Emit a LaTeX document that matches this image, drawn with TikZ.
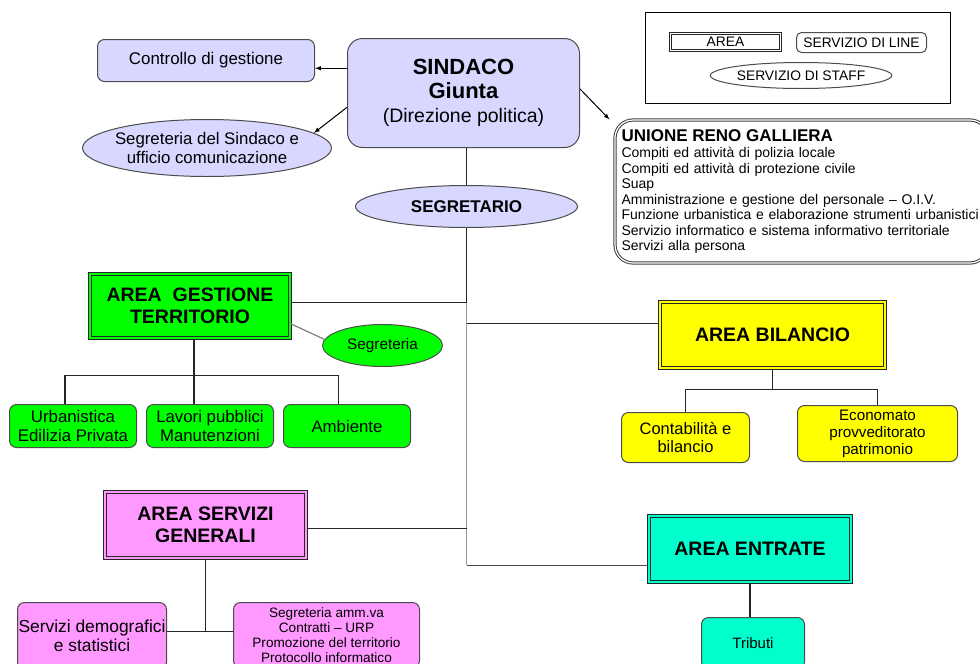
\documentclass[tikz,border=0pt]{standalone}
\usepackage{fontspec}
\setmainfont{Liberation Sans}
\usepackage{tikz}
\usetikzlibrary{shapes.geometric, arrows}
\definecolor{lav}{RGB}{215,215,255}
\definecolor{verde}{RGB}{0,255,0}
\definecolor{giallo}{RGB}{255,255,0}
\definecolor{rosa}{RGB}{255,153,255}
\definecolor{acqua}{RGB}{0,255,204}
\tikzstyle{staff} = [ellipse, 
draw=black!70, 
line width=1pt,
inner sep=0pt,
text centered]
\tikzstyle{servizio} = [rectangle, rounded corners=7pt, 
draw=black!70, 
line width=1pt,
inner sep=0pt,
align=center]
\tikzstyle{area} = [rectangle, 
draw=black!85, 
line width=1.5pt, 
double distance=1.5pt,
inner sep=0pt,
align=center,
font=\bfseries\fontsize{19.5}{22}\selectfont]
\tikzstyle{arrow} = [line width=1pt,->,>=latex]
\tikzstyle{conn} = [line width=1.2pt, black!85]

\begin{document}
\begin{tikzpicture}[x=1pt, y=-1pt]
\useasboundingbox (0,0) rectangle (980,664);
\clip (0,0) rectangle (980,664);

% legenda
\node (legenda) [rectangle, draw=black, line width=1pt, minimum width=305pt, minimum height=91pt] at (797.5,57.5) {};
\node (legarea) [area, fill=white, double=white, line width=1.2pt, font=\fontsize{13.8}{15}\selectfont, minimum width=110pt, minimum height=17pt] at (725.5,42) {AREA};
\node (legline) [servizio, fill=white, rounded corners=5pt, font=\fontsize{13.8}{15}\selectfont, minimum width=130pt, minimum height=20pt] at (861.5,42.5) {SERVIZIO DI LINE};
\node (legstaff) [staff, fill=white, font=\fontsize{13.8}{15}\selectfont, minimum width=167pt, minimum height=26pt] at (801,75.5) {SERVIZIO DI STAFF};

% vertice
\node (sindaco) [servizio, fill=lav, rounded corners=15pt, minimum width=232pt, minimum height=109pt, font=\fontsize{22}{24}\selectfont] at (463.5,93) {\textbf{SINDACO}\\ \textbf{Giunta}\\ {\fontsize{19.5}{24}\selectfont (Direzione politica)}};
\node (ctrl) [servizio, fill=lav, minimum width=217pt, minimum height=42pt, font=\fontsize{16.9}{19}\selectfont] at (206,60.5) {Controllo di gestione};
\node (segsind) [staff, fill=lav, inner xsep=-4pt, minimum width=249pt, minimum height=57pt, align=center, font=\fontsize{16.8}{19}\selectfont] at (207,148) {Segreteria del Sindaco e\\ufficio comunicazione};
\node (segretario) [staff, fill=lav, minimum width=222pt, minimum height=42pt, font=\bfseries\fontsize{17}{19}\selectfont] at (466.5,206.5) {SEGRETARIO};
\node (unione) [rectangle, rounded corners=18pt, draw=black!75, line width=1pt, double=white, double distance=1.2pt, fill=white, inner xsep=6.5pt, text width=360pt, minimum height=143pt, align=left, font=\fontsize{14}{15.5}\selectfont] at (801.5,191.5) {{\bfseries\fontsize{17}{17}\selectfont UNIONE RENO GALLIERA}\\[1pt]
Compiti ed attività di polizia locale\\
Compiti ed attività di protezione civile\\
Suap\\
Amministrazione e gestione del personale – O.I.V.\\
Funzione urbanistica e elaborazione strumenti urbanistici\\
Servizio informatico e sistema informativo territoriale\\
Servizi alla persona};

% aree
\node (agt) [area, fill=verde, double=verde, minimum width=200pt, minimum height=64pt] at (190,306) {AREA\ \ GESTIONE\\TERRITORIO};
\node (segagt) [staff, fill=verde, minimum width=120pt, minimum height=42pt, font=\fontsize{15.3}{17}\selectfont] at (382.5,345.5) {Segreteria};
\node (urb) [servizio, fill=verde, minimum width=127pt, minimum height=43pt, font=\fontsize{16.8}{19}\selectfont] at (73,426) {Urbanistica\\Edilizia Privata};
\node (lavori) [servizio, fill=verde, minimum width=127pt, minimum height=43pt, font=\fontsize{16.8}{19}\selectfont] at (210,426) {Lavori pubblici\\Manutenzioni};
\node (amb) [servizio, fill=verde, minimum width=127pt, minimum height=43pt, font=\fontsize{16.8}{19}\selectfont] at (347,426) {Ambiente};

\node (ab) [area, fill=giallo, double=giallo, minimum width=225pt, minimum height=66pt] at (772.5,335) {AREA BILANCIO};
\node (cont) [servizio, fill=giallo, minimum width=128pt, minimum height=50pt, font=\fontsize{16.5}{18}\selectfont] at (685.5,437.5) {Contabilità e\\bilancio};
\node (econ) [servizio, fill=giallo, minimum width=160pt, minimum height=56pt, font=\fontsize{15.2}{17}\selectfont] at (877.5,433.5) {Economato\\provveditorato\\patrimonio};

\node (asg) [area, fill=rosa, double=rosa, minimum width=201pt, minimum height=66pt] at (205.5,525) {AREA SERVIZI\\GENERALI};
\node (demo) [servizio, fill=rosa, minimum width=149pt, minimum height=67pt, font=\fontsize{17.4}{19}\selectfont] at (92,636) {Servizi demografici\\e statistici};
\node (segamm) [servizio, fill=rosa, minimum width=186pt, minimum height=65pt, font=\fontsize{13.6}{15}\selectfont] at (326.5,635) {Segreteria amm.va\\Contratti – URP\\Promozione del territorio\\Protocollo informatico};

\node (ae) [area, fill=acqua, double=acqua, minimum width=202pt, minimum height=66pt] at (750,549) {AREA ENTRATE};
\node (trib) [servizio, fill=acqua, minimum width=103pt, minimum height=51pt, font=\fontsize{15}{17}\selectfont] at (753,643) {Tributi};

% collegamenti
\draw [arrow] (sindaco.168) -- (sindaco.168 -| ctrl.east);
\draw [arrow] (sindaco.187) -- (segsind.8);
\draw [arrow] (sindaco.2) -- ([xshift=-5pt]unione.north west);
\draw [conn] (sindaco.south -| segretario.north) -- (segretario.north);
\draw [conn, black!40] (agt.2 -| segretario.south) -- (ae.189 -| segretario.south);
\draw [conn, black!70] (ae.189 -| segretario.south) -- (ae.189);
\draw [conn] (segretario.south) -- (agt.2 -| segretario.south);
\draw [conn] (agt.2) -- (agt.2 -| segretario.south);
\draw [conn] (ab.174) -- (ab.174 -| segretario.south);
\draw [conn] (asg.-2) -- (asg.-2 -| segretario.south);
\draw [conn, black!50] (agt.-10) -- (segagt.174);

\draw [conn] (agt.-83) -- ++(0,37) coordinate (busgt);
\draw [conn] (busgt) -- (busgt |- lavori.north);
\draw [conn] (urb.110) |- (busgt) -| (amb.112);

\draw [conn] (ab.south) -- ++(0,21) coordinate (busb);
\draw [conn] (cont.north) |- (busb) -| (econ.north);

\draw [conn] (ae.south) -- (ae.south |- trib.north);

\draw [conn] (asg.south) -- ++(0,73) coordinate (busa);
\draw [conn] (busa -| demo.east) -- (busa -| segamm.west);

\end{tikzpicture}
\end{document}
